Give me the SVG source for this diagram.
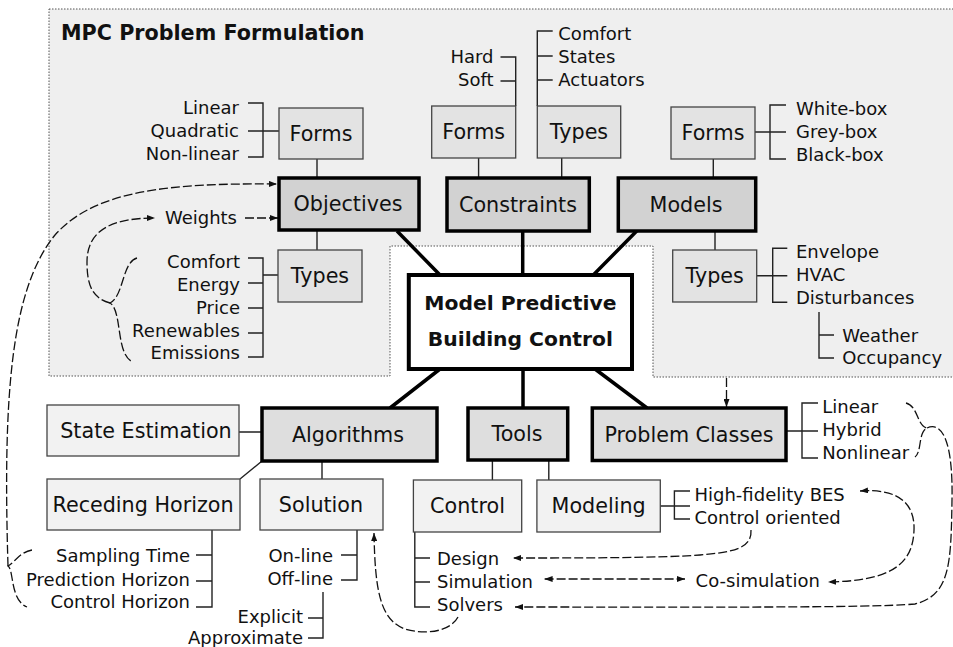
<svg xmlns="http://www.w3.org/2000/svg" width="953" height="647" viewBox="0 0 953 647">
<defs>
<style>
text{font-family:"DejaVu Sans",Verdana,sans-serif;fill:#111}
.lf{font-size:18px}
.bx{font-size:20.7px}
.r{text-anchor:end}
.c{text-anchor:middle}
.title{font-size:20.7px;font-weight:bold}
.ctr{font-size:20.3px;font-weight:bold;text-anchor:middle}
.dark{fill:#d2d2d2;stroke:#000;stroke-width:3.5}
.dark2{fill:#dedede;stroke:#000;stroke-width:3.5}
.mid{fill:#e3e3e3;stroke:#444;stroke-width:1.3}
.light{fill:#f2f2f2;stroke:#444;stroke-width:1.3}
.center{fill:#fff;stroke:#000;stroke-width:4}
.ln{fill:none;stroke:#222;stroke-width:1.4}
.tk{fill:none;stroke:#000;stroke-width:3.5}
.ds{fill:none;stroke:#111;stroke-width:1.3;stroke-dasharray:9 3}
.region{fill:#efefef;stroke:#555;stroke-width:1;stroke-dasharray:1.5 1.5}
</style>
<marker id="ah" viewBox="0 0 8 6" refX="8" refY="3" markerWidth="8" markerHeight="6" markerUnits="userSpaceOnUse" orient="auto-start-reverse">
<path d="M0,0 L8,3 L0,6 z" fill="#111"/>
</marker>
</defs>
<rect width="953" height="647" fill="#fff"/>
<g id="region">
<path class="region" d="M49,9 H960 V377 H653 V246 H390 V376 H49 Z"/>
<text class="title" x="61" y="40">MPC Problem Formulation</text>
</g>
<g id="connectors">
<path class="ln" d="M248,103 H263 V157 H248 M248,131 H279 M317,159 V178 M317,230 V250"/>
<path class="ln" d="M248,258 H263 V357 H248 M248,283 H263 M248,308 H263 M248,333 H263 M263,275 H278"/>
<path class="ln" d="M500.5,57 H515.7 V106 M500.5,81 H515.7 M478.6,158 V178"/>
<path class="ln" d="M552.7,31 H537.3 V106 M537.3,56 H552.7 M537.3,80 H552.7 M561.7,158 V178"/>
<path class="ln" d="M755,132 H786 M786,105 H770 V159 H786 M713.3,159 V178"/>
<path class="ln" d="M715,231 V250 M756.7,275.7 H787.3 M787.3,248.3 H772.7 V302.3 H787.3 M819,312 V358 H834 M819,335 H834"/>
<path class="ln" d="M786,431 H818 M818,403 H802 V458 H818"/>
<path class="ln" d="M239,432 H262 M262,461 L240,479 M322,461 V479"/>
<path class="ln" d="M212,530 V607 H196 M196,555 H212 M196,581 H212"/>
<path class="ln" d="M357,530 V580 H341 M341,555 H357 M323,592 V638 H308 M308,618 H323"/>
<path class="ln" d="M492.4,460 V480 M548.8,460 V480 M660.3,506 H690 M690,491 H674.4 V519 H690"/>
<path class="ln" d="M414.8,532 V607 H430 M414.8,558 H430 M414.8,582 H430"/>
<path class="tk" d="M397,231 L440,275 M522.7,231 V275 M636.7,231 L593.3,275 M440,369 L390,408 M523,369 V408 M595,369 L647,408"/>
<path class="ds" d="M32,550 C20,552 15,562 8,566 C14,570 10,600 27,607"/>
<path class="ds" marker-end="url(#ah)" d="M8,566 C3,400 10,290 55,235 C95,190 170,183 277,184"/>
<path class="ds" d="M137,258 C122,262 124,296 110,303 C122,310 116,352 131,361"/>
<path class="ds" marker-end="url(#ah)" d="M110,303 C92,298 87,285 87,262 C87,230 112,218 155,218"/>
<path class="ds" marker-end="url(#ah)" d="M245,218 H278"/>
<path class="ds" marker-end="url(#ah)" d="M726.5,378 V407"/>
<path class="ds" d="M906,403 C918,406 917,426 927,428 C918,432 922,452 915,457"/>
<path class="ds" marker-end="url(#ah)" d="M927,428 C945,420 953,450 952,500 C951,565 950,595 915,604 C870,608 700,607 515,607"/>
<path class="ds" marker-start="url(#ah)" marker-end="url(#ah)" d="M860,491 C900,488 915,505 914,530 C913,565 890,581 828,582"/>
<path class="ds" marker-end="url(#ah)" d="M751,530 C752,548 735,552 700,555 C660,558 580,558 513,558"/>
<path class="ds" marker-start="url(#ah)" marker-end="url(#ah)" d="M544.6,579 H685"/>
<path class="ds" marker-end="url(#ah)" d="M458,617 C450,632 425,635 405,629 C380,620 375,590 374,533"/>
</g>
<g id="center"><rect class="center" x="408.8" y="275" width="223.2" height="94"/><text class="ctr" x="520.4" y="310">Model Predictive</text><text class="ctr" x="520.4" y="346">Building Control</text></g>
<g id="objectives"><rect class="dark" x="279" y="178" width="140" height="52"/><text class="bx c" x="348" y="211">Objectives</text></g>
<g id="constraints"><rect class="dark" x="447" y="178" width="142.3" height="53"/><text class="bx c" x="518" y="211.5">Constraints</text></g>
<g id="models"><rect class="dark" x="618.3" y="178" width="137.4" height="53"/><text class="bx c" x="686" y="211.5">Models</text></g>
<g id="obj-forms"><rect class="mid" x="279" y="108" width="84" height="51"/><text class="bx c" x="321" y="141">Forms</text>
<text class="lf r" x="239" y="114">Linear</text><text class="lf r" x="239" y="137">Quadratic</text><text class="lf r" x="239" y="160">Non-linear</text></g>
<g id="obj-types"><rect class="mid" x="278" y="250" width="84" height="52"/><text class="bx c" x="320" y="283">Types</text>
<text class="lf r" x="240" y="268">Comfort</text><text class="lf r" x="240" y="291">Energy</text><text class="lf r" x="240" y="314">Price</text><text class="lf r" x="240" y="337">Renewables</text><text class="lf r" x="240" y="359">Emissions</text></g>
<g id="weights"><text class="lf r" x="237" y="224">Weights</text></g>
<g id="con-forms"><rect class="mid" x="431.7" y="106" width="84" height="52"/><text class="bx c" x="473.7" y="139">Forms</text>
<text class="lf r" x="493.5" y="63">Hard</text><text class="lf r" x="493.5" y="86">Soft</text></g>
<g id="con-types"><rect class="mid" x="537.3" y="106" width="83.4" height="52"/><text class="bx c" x="579" y="139">Types</text>
<text class="lf" x="558.3" y="40">Comfort</text><text class="lf" x="558.3" y="63">States</text><text class="lf" x="558.3" y="86">Actuators</text></g>
<g id="mod-forms"><rect class="mid" x="671" y="107" width="84" height="52"/><text class="bx c" x="713" y="140">Forms</text>
<text class="lf" x="796" y="115">White-box</text><text class="lf" x="796" y="138">Grey-box</text><text class="lf" x="796" y="161">Black-box</text></g>
<g id="mod-types"><rect class="mid" x="672.7" y="250" width="84" height="52"/><text class="bx c" x="714.7" y="283">Types</text>
<text class="lf" x="796" y="258">Envelope</text><text class="lf" x="796" y="281">HVAC</text><text class="lf" x="796" y="304">Disturbances</text>
<text class="lf" x="842.3" y="342">Weather</text><text class="lf" x="842.3" y="364">Occupancy</text></g>
<g id="algorithms"><rect class="dark2" x="262" y="408" width="175" height="53"/><text class="bx c" x="348" y="442">Algorithms</text></g>
<g id="tools"><rect class="dark2" x="468" y="408" width="99.7" height="52"/><text class="bx c" x="517" y="441">Tools</text></g>
<g id="problem-classes"><rect class="dark2" x="592.3" y="408" width="193.7" height="52.5"/><text class="bx c" x="689" y="441.5">Problem Classes</text>
<text class="lf" x="822.3" y="413">Linear</text><text class="lf" x="822.3" y="436">Hybrid</text><text class="lf" x="822.3" y="459">Nonlinear</text></g>
<g id="state-estimation"><rect class="light" x="47" y="405" width="192" height="51"/><text class="bx c" x="146" y="438">State Estimation</text></g>
<g id="receding-horizon"><rect class="light" x="47" y="479" width="193" height="51"/><text class="bx c" x="143" y="512">Receding Horizon</text>
<text class="lf r" x="190" y="562">Sampling Time</text><text class="lf r" x="190" y="586">Prediction Horizon</text><text class="lf r" x="190" y="608">Control Horizon</text></g>
<g id="solution"><rect class="light" x="260" y="479" width="123" height="51"/><text class="bx c" x="321" y="512">Solution</text>
<text class="lf r" x="333" y="562">On-line</text><text class="lf r" x="333" y="585">Off-line</text>
<text class="lf r" x="303" y="623">Explicit</text><text class="lf r" x="303" y="644">Approximate</text></g>
<g id="control"><rect class="light" x="413.4" y="480" width="108.3" height="52"/><text class="bx c" x="467.5" y="513">Control</text>
<text class="lf" x="437" y="565">Design</text><text class="lf" x="437" y="588">Simulation</text><text class="lf" x="437" y="611">Solvers</text></g>
<g id="modeling"><rect class="light" x="536.9" y="480" width="123.4" height="52"/><text class="bx c" x="598.6" y="513">Modeling</text>
<text class="lf" x="694.5" y="501">High-fidelity BES</text><text class="lf" x="694.5" y="524">Control oriented</text></g>
<g id="co-simulation"><text class="lf" x="695.6" y="587">Co-simulation</text></g>
</svg>
